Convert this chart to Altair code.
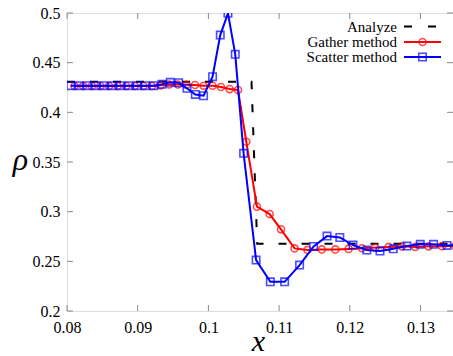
import altair as alt
import pandas as pd

# ---------------- data ----------------
gather_x = [0.08107, 0.08229, 0.08351, 0.08472, 0.08594, 0.08716, 0.08837, 0.08959,
            0.09081, 0.09202, 0.09324, 0.09446, 0.09567, 0.09689, 0.09810, 0.09932,
            0.10059, 0.10178, 0.10300, 0.10419, 0.10536, 0.10687, 0.10866, 0.11027,
            0.11219, 0.11403, 0.11604, 0.11795, 0.11983, 0.12172, 0.12361, 0.12549,
            0.12738, 0.12926, 0.13115, 0.13304, 0.13490]
gather_rho = [0.4265, 0.4265, 0.4265, 0.4265, 0.4265, 0.4265, 0.4265, 0.4265,
              0.4265, 0.4265, 0.4272, 0.4280, 0.4280, 0.4278, 0.4275, 0.4268,
              0.4268, 0.4255, 0.4234, 0.4225, 0.3704, 0.3050, 0.2976, 0.2822,
              0.2630, 0.2615, 0.2620, 0.2620, 0.2625, 0.2632, 0.2638, 0.2645,
              0.2651, 0.2645, 0.2651, 0.2652, 0.2655]

scatter_x = [0.08052, 0.08170, 0.08287, 0.08405, 0.08522, 0.08639, 0.08757, 0.08874,
             0.08992, 0.09109, 0.09226, 0.09344, 0.09461, 0.09579, 0.09697, 0.09815,
             0.09932, 0.10059, 0.10168, 0.10277, 0.10380, 0.10498, 0.10675, 0.10876,
             0.11078, 0.11290, 0.11488, 0.11678, 0.11859, 0.12045, 0.12240, 0.12427,
             0.12615, 0.12809, 0.12997, 0.13186, 0.13375, 0.13570]
scatter_rho = [0.4268, 0.4268, 0.4268, 0.4268, 0.4268, 0.4268, 0.4268, 0.4268,
               0.4268, 0.4268, 0.4268, 0.4282, 0.4302, 0.4298, 0.4242, 0.4180,
               0.4167, 0.4359, 0.4778, 0.4997, 0.4584, 0.3587, 0.2513, 0.2294,
               0.2294, 0.2462, 0.2650, 0.2754, 0.2740, 0.2664, 0.2613, 0.2603,
               0.2626, 0.2654, 0.2671, 0.2671, 0.2660, 0.2662]

analyze_x = [0.0800, 0.1061, 0.1069, 0.1346]
analyze_rho = [0.4308, 0.4308, 0.2677, 0.2677]

x_ticks = [0.08, 0.09, 0.10, 0.11, 0.12, 0.13]
y_ticks = [0.2, 0.25, 0.3, 0.35, 0.4, 0.45, 0.5]

legend_names = ["Analyze", "Gather method", "Scatter method"]

# ---------------- style ----------------
W, H = 386, 298
FONT = "Liberation Serif"
GRAY = "#999999"
RED = "#ff0000"
BLUE = "#0000ff"

x_scale = alt.Scale(domain=[0.08, 0.1346], nice=False, zero=False)
y_scale = alt.Scale(domain=[0.2, 0.5], nice=False, zero=False)

x_axis = alt.Axis(values=x_ticks, format=".2~f", tickSize=0, domain=False, grid=False,
                  labelFont=FONT, labelFontSize=16, labelColor="black", labelPadding=8,
                  labelOverlap=False, labelFlush=False,
                  title="x", titleFont=FONT, titleFontStyle="italic", titleFontWeight="normal",
                  titleFontSize=30, titleColor="black", titleX=191, titleY=30,
                  titleAlign="center", titleBaseline="middle", titleAngle=0)
y_axis = alt.Axis(values=y_ticks, format=".2~f", tickSize=0, domain=False, grid=False,
                  labelFont=FONT, labelFontSize=16, labelColor="black", labelPadding=7,
                  labelOverlap=False, labelFlush=False,
                  title="ρ", titleFont=FONT, titleFontStyle="italic", titleFontWeight="normal",
                  titleFontSize=32, titleColor="black", titleX=-47, titleY=146,
                  titleAlign="center", titleBaseline="middle", titleAngle=0)

X = alt.X("x:Q", scale=x_scale, axis=x_axis)
Y = alt.Y("rho:Q", scale=y_scale, axis=y_axis)

df_g = pd.DataFrame({"x": gather_x, "rho": gather_rho})
df_s = pd.DataFrame({"x": scatter_x, "rho": scatter_rho})
df_a = pd.DataFrame({"x": analyze_x, "rho": analyze_rho})
df_xt = pd.DataFrame({"x": x_ticks})
df_yt = pd.DataFrame({"rho": y_ticks})

analyze = alt.Chart(df_a).mark_line(color="black", strokeWidth=2, strokeDash=[8, 15], clip=True).encode(x=X, y=Y)
g_line = alt.Chart(df_g).mark_line(color=RED, strokeWidth=2, clip=True).encode(x=X, y=Y)
g_pts = alt.Chart(df_g).mark_point(shape="circle", color=RED, filled=False, size=50, strokeWidth=1.6, clip=True).encode(x=X, y=Y)
s_line = alt.Chart(df_s).mark_line(color=BLUE, strokeWidth=2, clip=True).encode(x=X, y=Y)
s_pts = alt.Chart(df_s).mark_point(shape="square", color=BLUE, filled=False, size=55, strokeWidth=1.6, clip=True).encode(x=X, y=Y)

# inward ticks on all four sides
tick_style = dict(color="#888888", strokeWidth=1)
xb = alt.Chart(df_xt).mark_rule(**tick_style).encode(x=X, y=alt.value(H), y2=alt.value(H - 6))
xt = alt.Chart(df_xt).mark_rule(**tick_style).encode(x=X, y=alt.value(0), y2=alt.value(6))
yl = alt.Chart(df_yt).mark_rule(**tick_style).encode(y=Y, x=alt.value(0), x2=alt.value(6))
yr = alt.Chart(df_yt).mark_rule(**tick_style).encode(y=Y, x=alt.value(W), x2=alt.value(W - 6))

# legend (top right, labels left of samples)
one = pd.DataFrame({"k": [0]})
leg_rows = [13.5, 29, 44]
leg_text_x = 330
leg_x1, leg_x2, leg_mid = 337, 374, 355.5
legend_layers = []
styles = [("black", [8, 16], None), (RED, None, "circle"), (BLUE, None, "square")]
for name, yy, (col, dash, shp) in zip(legend_names, leg_rows, styles):
    legend_layers.append(
        alt.Chart(one).mark_text(font=FONT, fontSize=15, align="right", baseline="middle", color="black")
        .encode(x=alt.value(leg_text_x), y=alt.value(yy), text=alt.value(name)))
    rule_kw = dict(color=col, strokeWidth=2)
    if dash:
        rule_kw["strokeDash"] = dash
    legend_layers.append(
        alt.Chart(one).mark_rule(**rule_kw)
        .encode(x=alt.value(leg_x1), x2=alt.value(leg_x2), y=alt.value(yy)))
    if shp:
        legend_layers.append(
            alt.Chart(one).mark_point(shape=shp, color=col, filled=False,
                                      size=50 if shp == "circle" else 55, strokeWidth=1.6)
            .encode(x=alt.value(leg_mid), y=alt.value(yy)))

chart = alt.layer(analyze, g_line, g_pts, s_line, s_pts, xb, xt, yl, yr, *legend_layers).properties(
    width=W, height=H,
    autosize=alt.AutoSizeParams(type="none"),
    padding={"left": 67, "top": 13, "right": 0, "bottom": 45},
    background="white",
).configure_view(stroke=GRAY, strokeWidth=1).configure(font=FONT)

chart.save("out.html", embed_options={"renderer": "svg", "actions": False})
